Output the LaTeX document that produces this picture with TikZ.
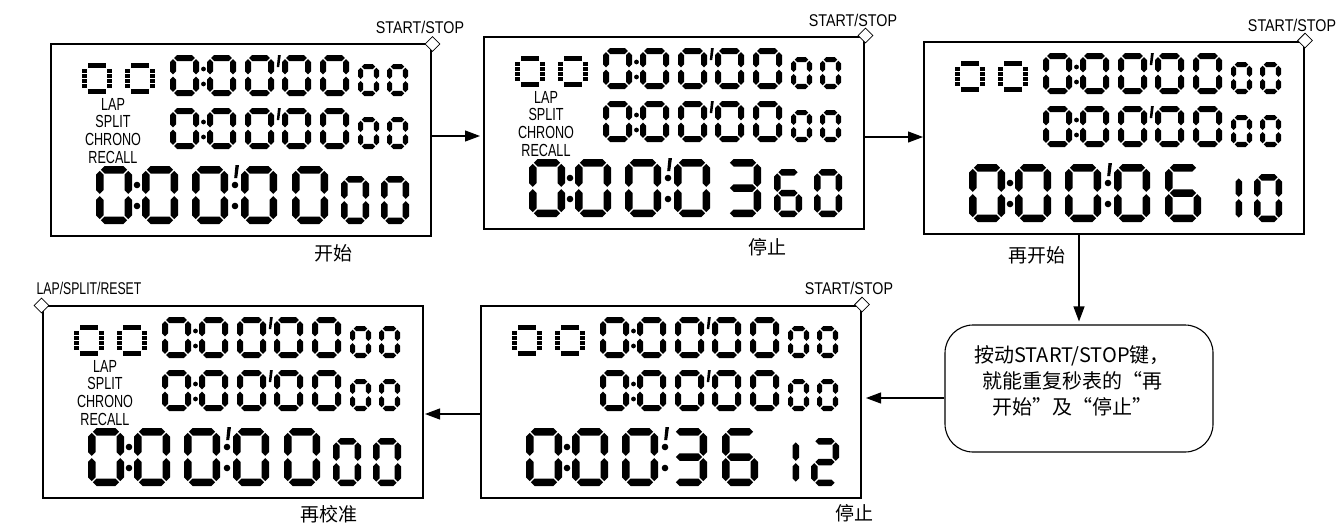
\documentclass[tikz,border=0pt]{standalone}
\usepackage{fontspec}
\usepackage{graphicx}
\setmainfont{Liberation Sans}
\newfontfamily\cjk{Noto Sans CJK SC}
\usetikzlibrary{arrows.meta,shapes.geometric}

\def\dgzero{a,b,c,d,e,f}
\def\dgone{b,c}
\def\dgtwo{a,b,g,e,d}
\def\dgthree{a,b,g,c,d}
\def\dgsix{a,f,g,e,c,d}

\newcommand\sega{\fill ({\st/2+\sg},{\st/2}) -- ({\st+\sg},0) -- ({\sw-\st-\sg},0) -- ({\sw-\st/2-\sg},{\st/2}) -- ({\sw-\st-\sg},\st) -- ({\st+\sg},\st) -- cycle;}
\newcommand\segd{\fill ({\st/2+\sg},{\sh-\st/2}) -- ({\st+\sg},{\sh-\st}) -- ({\sw-\st-\sg},{\sh-\st}) -- ({\sw-\st/2-\sg},{\sh-\st/2}) -- ({\sw-\st-\sg},\sh) -- ({\st+\sg},\sh) -- cycle;}
\newcommand\segg{\fill ({\st/2+\sg},{\sh/2}) -- ({\st+\sg},{\sh/2-\st/2}) -- ({\sw-\st-\sg},{\sh/2-\st/2}) -- ({\sw-\st/2-\sg},{\sh/2}) -- ({\sw-\st-\sg},{\sh/2+\st/2}) -- ({\st+\sg},{\sh/2+\st/2}) -- cycle;}
\newcommand\vseg[3]{\fill ({#1+\st/2},{#2}) -- ({#1+\st},{#2+\st/2}) -- ({#1+\st},{#3-\st/2}) -- ({#1+\st/2},{#3}) -- ({#1},{#3-\st/2}) -- ({#1},{#2+\st/2}) -- cycle;}
\newcommand\segf{\vseg{0}{\st/2+\sg}{\sh/2-\sg}}
\newcommand\segb{\vseg{\sw-\st}{\st/2+\sg}{\sh/2-\sg}}
\newcommand\sege{\vseg{0}{\sh/2+\sg}{\sh-\st/2-\sg}}
\newcommand\segc{\vseg{\sw-\st}{\sh/2+\sg}{\sh-\st/2-\sg}}

\newcommand\sdigit[6]{%
 \begin{scope}[shift={(#1,#2)}]
  \pgfmathsetmacro\sw{#3}\pgfmathsetmacro\sh{#4}\pgfmathsetmacro\st{#5}\def\sg{1.1}
  \foreach \s in #6 {\csname seg\s\endcsname}
 \end{scope}}

\newcommand\dotzero[2]{%
 \begin{scope}[shift={(#1,#2)}]
  \foreach \x in {6.4,12.3,18.2}{\fill (\x,0) rectangle ++(5.4,5); \fill (\x,26) rectangle ++(5.4,5);}
  \foreach \y in {5.8,10.9,15.6,20.7}{\fill (0,\y) rectangle ++(5.4,4.5); \fill (24.6,\y) rectangle ++(5.4,4.5);}
 \end{scope}}

\newcommand\toprow[1]{%
 \sdigit{119}{#1}{29}{41}{6}{\dgzero}
 \fill (152.5,{#1+14}) circle (2.4pt); \fill (152.5,{#1+29}) circle (2.4pt);
 \sdigit{156}{#1}{29}{41}{6}{\dgzero}
 \sdigit{194}{#1}{29}{41}{6}{\dgzero}
 \fill (227,#1) -- ++(2.8,0) -- ++(-1.6,12) -- ++(-2.4,0) -- cycle;
 \sdigit{231}{#1}{29}{41}{6}{\dgzero}
 \sdigit{269}{#1}{29}{41}{6}{\dgzero}
 \sdigit{307}{#1+9}{21}{32}{5.2}{\dgzero}
 \sdigit{336}{#1+9}{21}{32}{5.2}{\dgzero}}

\newcommand\bigrow[4]{%
 \sdigit{45}{122}{36}{58}{7.5}{\dgzero}
 \fill (86,141) circle (3.3pt); \fill (86,162) circle (3.3pt);
 \sdigit{91}{122}{36}{58}{7.5}{\dgzero}
 \sdigit{141}{122}{36}{58}{7.5}{\dgzero}
 \fill (184.5,121) -- ++(3.5,0) -- ++(-1.8,13) -- ++(-3,0) -- cycle;
 \fill (184,141) circle (3.3pt); \fill (184,162) circle (3.3pt);
 \sdigit{190}{122}{36}{58}{7.5}{#1}
 \sdigit{241}{122}{36}{58}{7.5}{#2}
 \sdigit{290}{132}{28}{48}{6.5}{#3}
 \sdigit{330}{132}{28}{48}{6.5}{#4}}

\newcommand\nar[1]{\scalebox{0.72}[1]{#1}}
\newcommand\lcdlabels[1]{%
 \node[lcdlbl] (#1lap) at (62,60) {\nar{LAP}};
 \node[lcdlbl] (#1split) at (62,77) {\nar{SPLIT}};
 \node[lcdlbl] (#1chrono) at (62,95) {\nar{CHRONO}};
 \node[lcdlbl] (#1recall) at (62,113) {\nar{RECALL}};}

\newcommand\lcd[6]{%
 \begin{scope}[shift={(#1.north west)}]
  \dotzero{31}{19}\dotzero{74}{19}
  \toprow{11}\toprow{64}
  \bigrow{#3}{#4}{#5}{#6}
  \ifnum#2=1 \lcdlabels{#1}\fi
 \end{scope}}

\begin{document}
\begin{tikzpicture}[x=1pt,y=-1pt,
  panel/.style={draw,line width=1.1pt,minimum width=380pt,minimum height=192pt,inner sep=0pt,outer sep=0pt,anchor=north west},
  btn/.style={diamond,draw,fill=white,line width=0.8pt,minimum width=15pt,minimum height=15pt,inner sep=0pt},
  keylbl/.style={font=\fontsize{17}{17}\selectfont,inner sep=0pt},
  lcdlbl/.style={font=\fontsize{17.5}{17.5}\selectfont,inner sep=0pt},
  captext/.style={font=\cjk\fontsize{19}{19}\selectfont,inner sep=0pt},
  arr/.style={line width=1.1pt,-{Triangle[length=15pt,width=11pt]}},
  note/.style={draw,line width=1.1pt,rounded corners=28pt,minimum width=268pt,minimum height=127pt,inner sep=0pt},
  notetext/.style={font=\cjk\fontsize{20}{26}\selectfont,align=center,inner sep=0pt}]
\useasboundingbox (0,0) rectangle (1340,523);

\node[panel] (p1) at (51,44) {};
\node[panel] (p2) at (484,37) {};
\node[panel] (p3) at (924,42) {};
\node[panel] (p4) at (43,306) {};
\node[panel] (p5) at (481,306) {};

\lcd{p1}{1}{\dgzero}{\dgzero}{\dgzero}{\dgzero}
\lcd{p2}{1}{\dgzero}{\dgthree}{\dgsix}{\dgzero}
\lcd{p3}{0}{\dgzero}{\dgsix}{\dgone}{\dgzero}
\lcd{p4}{1}{\dgzero}{\dgzero}{\dgzero}{\dgzero}
\lcd{p5}{0}{\dgthree}{\dgsix}{\dgone}{\dgtwo}

\node[btn] (b1) at ([shift={(1.5,0)}]p1.north east) {};
\node[btn] (b2) at ([shift={(1.5,-1.5)}]p2.north east) {};
\node[btn] (b3) at ([shift={(1,-1.5)}]p3.north east) {};
\node[btn] (b5) at ([shift={(1,-1.5)}]p5.north east) {};
\node[btn] (b4) at ([shift={(-1.5,-0.5)}]p4.north west) {};

\node[keylbl] (k1) at (420,27) {\scalebox{0.84}[1]{START/STOP}};
\node[keylbl] (k2) at (853,20) {\scalebox{0.84}[1]{START/STOP}};
\node[keylbl] (k3) at (1292,25) {\scalebox{0.84}[1]{START/STOP}};
\node[keylbl] (k5) at (849,288) {\scalebox{0.84}[1]{START/STOP}};
\node[keylbl] (k4) at (89,288) {\scalebox{0.72}[1]{LAP/SPLIT/RESET}};

\node[captext] (c1) at (333,253) {开始};
\node[captext] (c2) at (767,247) {停止};
\node[captext] (c3) at (1037,255) {再开始};
\node[captext] (c4) at (329,514) {再校准};
\node[captext] (c5) at (854,513) {停止};

\node[note] (rb) at (1079,388.5) {};
\node[notetext] (rbt) at (1072,381) {按动START/STOP键，\\就能重复秒表的“再\\开始”及“停止”};

\draw[arr,shorten >=4pt] (p1.east |- 0,136) -- (p2.west |- 0,136);
\draw[arr,shorten >=1pt] (p2.east |- 0,137) -- (p3.west |- 0,137);
\draw[arr,shorten >=3pt] (rb.north |- p3.south) -- (rb.north);
\draw[arr,shorten >=5pt] (rb.west |- 0,398) -- (p5.east |- 0,398);
\draw[arr,shorten >=2pt] (p5.west |- 0,414) -- (p4.east |- 0,414);
\end{tikzpicture}
\end{document}
